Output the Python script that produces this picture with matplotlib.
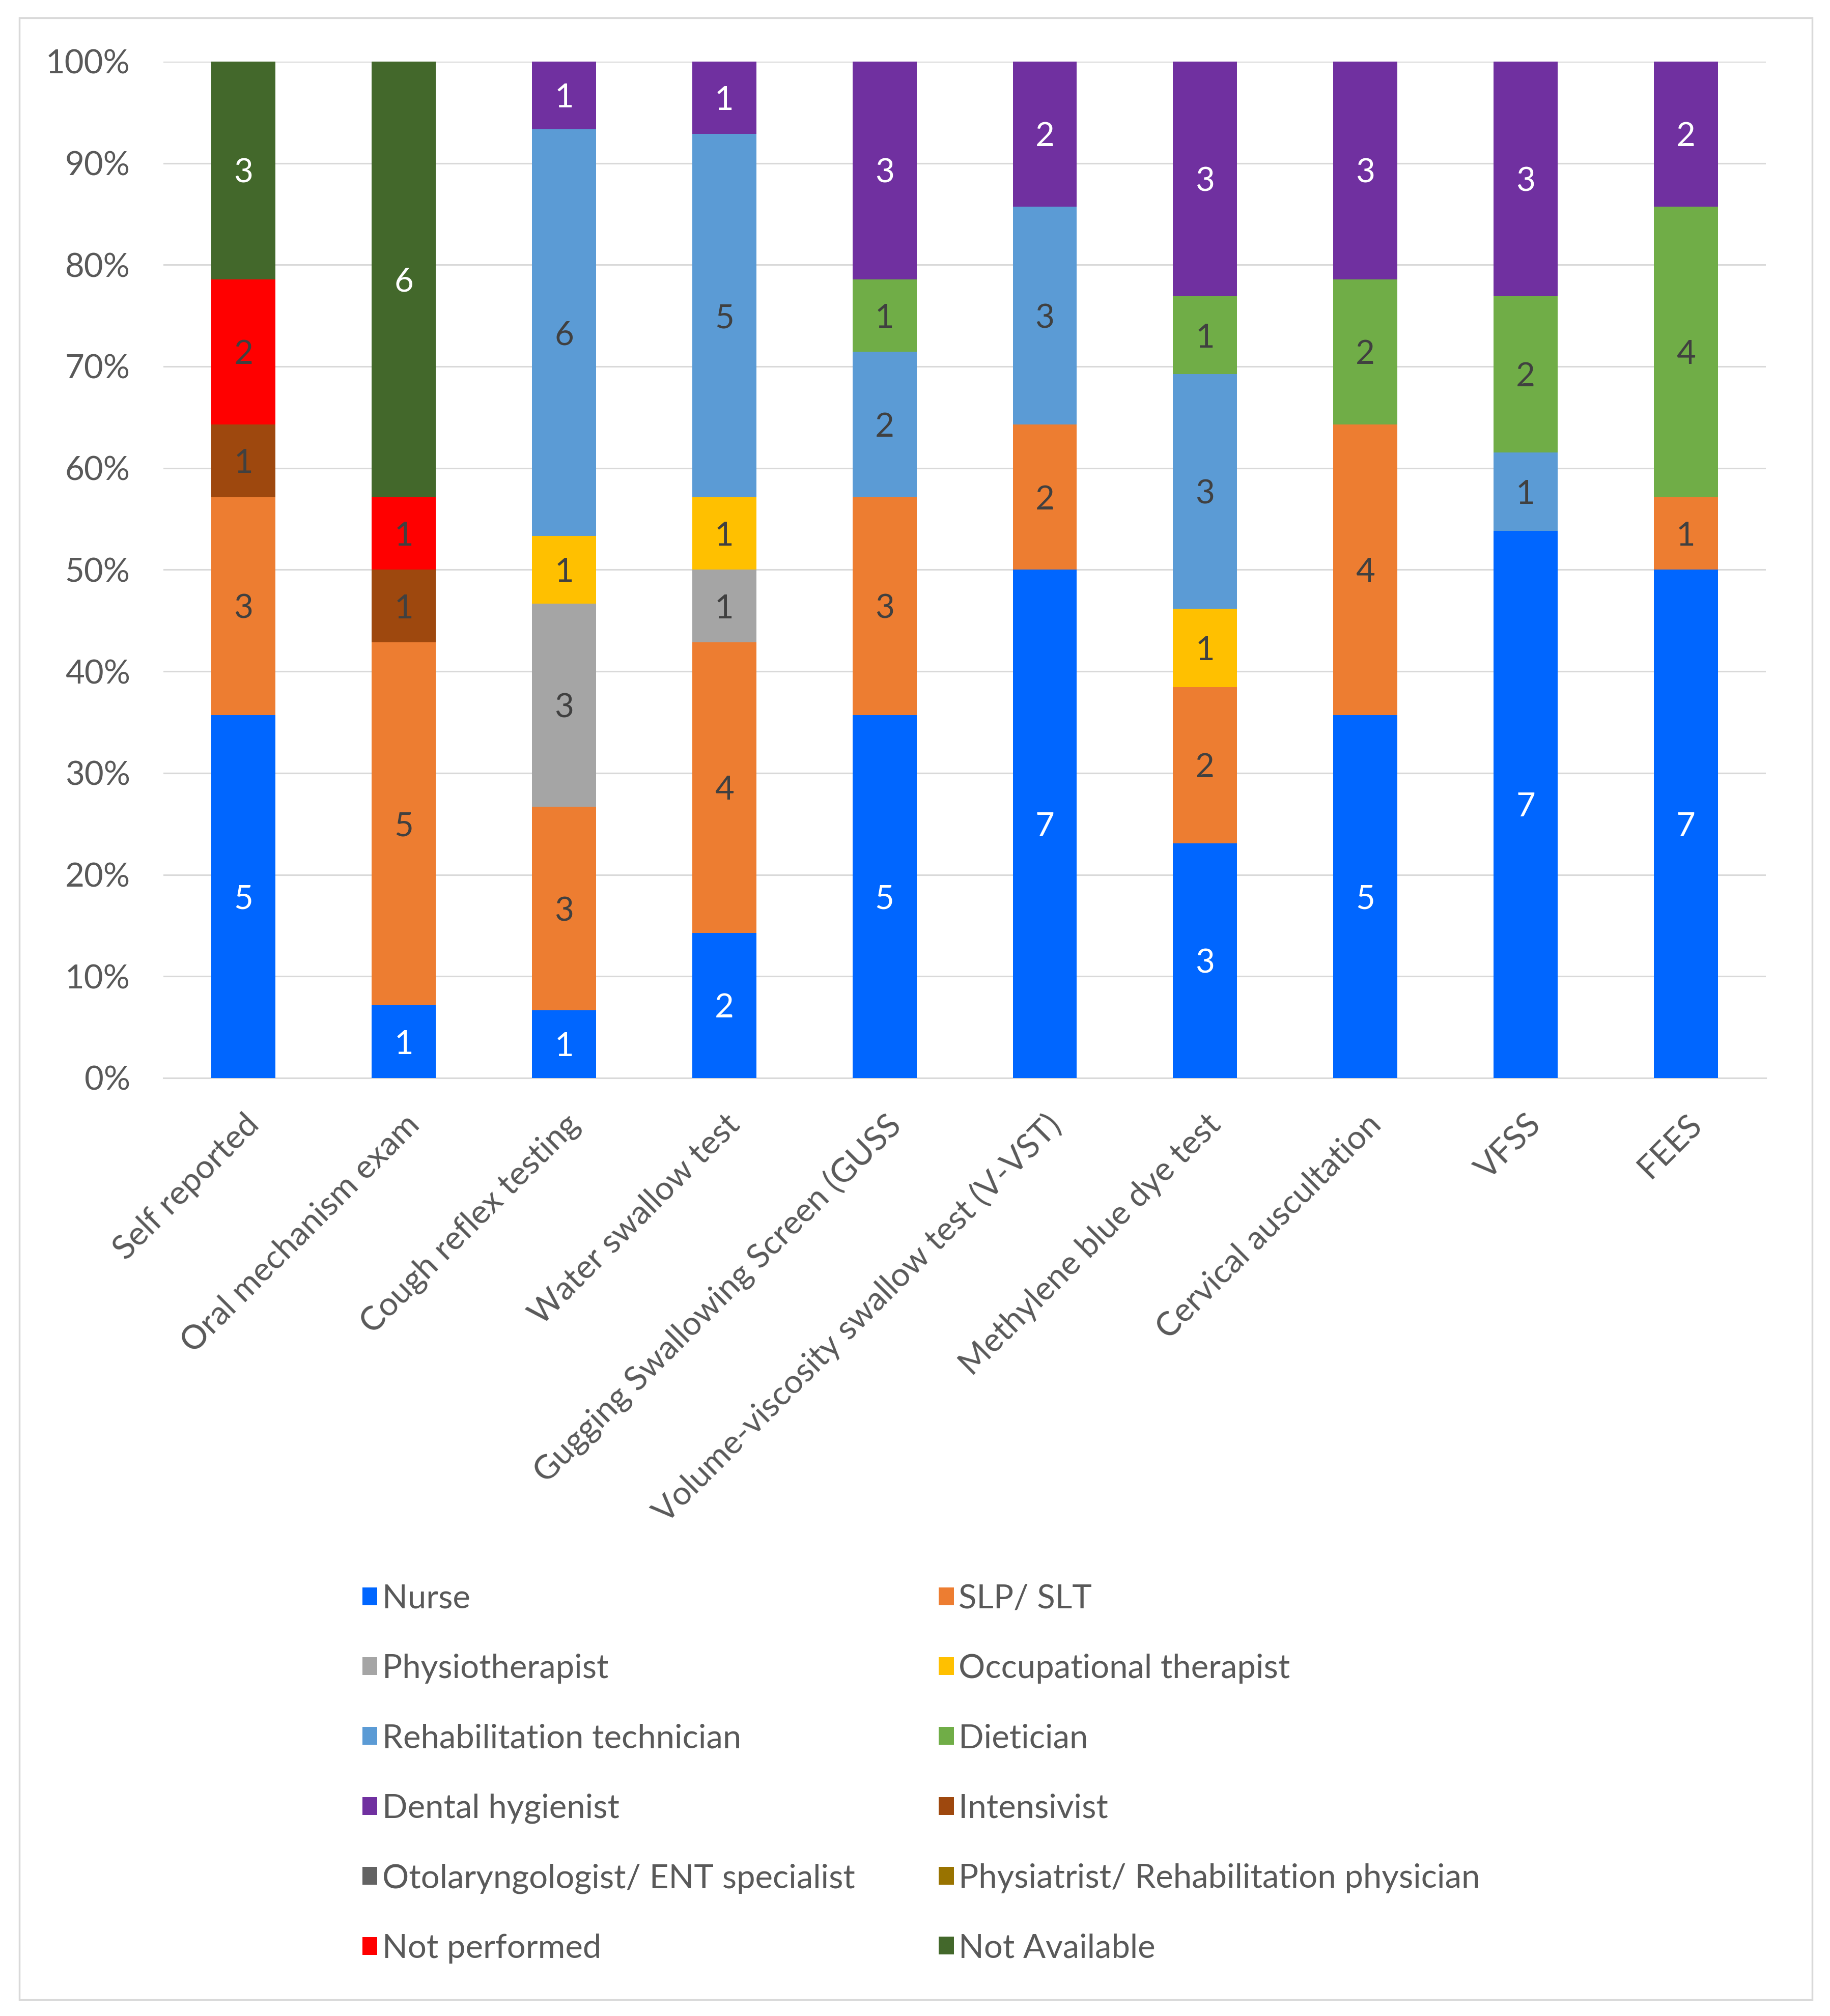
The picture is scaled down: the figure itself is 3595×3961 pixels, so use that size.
import numpy as np
import matplotlib.pyplot as plt
from matplotlib.patches import Rectangle, Patch

# categories along the x axis
tests = ['Self reported', 'Oral mechanism exam', 'Cough reflex testing',
         'Water swallow test', 'Gugging Swallowing Screen (GUSS',
         'Volume-viscosity swallow test (V-VST)', 'Methylene blue dye test',
         'Cervical auscultation', 'VFSS', 'FEES']

# counts per professional group, one list per series
nurse = [5, 1, 1, 2, 5, 7, 3, 5, 7, 7]
slp = [3, 5, 3, 4, 3, 2, 2, 4, 0, 1]
physio = [0, 0, 3, 1, 0, 0, 0, 0, 0, 0]
ot = [0, 0, 1, 1, 0, 0, 1, 0, 0, 0]
rehab_tech = [0, 0, 6, 5, 2, 3, 3, 0, 1, 0]
dietician = [0, 0, 0, 0, 1, 0, 1, 2, 2, 4]
dental = [0, 0, 1, 1, 3, 2, 3, 3, 3, 2]
intensivist = [1, 1, 0, 0, 0, 0, 0, 0, 0, 0]
ent = [0, 0, 0, 0, 0, 0, 0, 0, 0, 0]
physiatrist = [0, 0, 0, 0, 0, 0, 0, 0, 0, 0]
not_performed = [2, 1, 0, 0, 0, 0, 0, 0, 0, 0]
not_available = [3, 6, 0, 0, 0, 0, 0, 0, 0, 0]

series_names = ['Nurse', 'SLP/ SLT', 'Physiotherapist', 'Occupational therapist',
                'Rehabilitation technician', 'Dietician', 'Dental hygienist',
                'Intensivist', 'Otolaryngologist/ ENT specialist',
                'Physiatrist/ Rehabilitation physician', 'Not performed',
                'Not Available']
series_vals = [nurse, slp, physio, ot, rehab_tech, dietician, dental,
               intensivist, ent, physiatrist, not_performed, not_available]
colors = ['#0066FF', '#ED7D31', '#A5A5A5', '#FFC000', '#5B9BD5', '#70AD47',
          '#7030A0', '#9E480E', '#636363', '#997300', '#FF0000', '#43682B']
label_colors = ['white', '#404040', '#404040', '#404040', '#404040', '#404040',
                'white', '#404040', 'white', 'white', '#404040', 'white']

plt.rcParams['font.family'] = ['Lato', 'DejaVu Sans']
fs = 47
txt_col = '#595959'
grid_col = '#D9D9D9'

fig = plt.figure(figsize=(35.95, 39.61), dpi=100)
ax = fig.add_axes([0.0893, 0.4653, 0.8757, 0.5042])

data = np.array(series_vals, dtype=float)
totals = data.sum(axis=0)
pct = data / totals * 100
x = np.arange(len(tests))
bottom = np.zeros(len(tests))
for i, name in enumerate(series_names):
    bars = ax.bar(x, pct[i], 0.4, bottom=bottom, color=colors[i], zorder=3)
    for j, b in enumerate(bars):
        if data[i, j] > 0:
            ax.text(b.get_x() + b.get_width() / 2, bottom[j] + pct[i, j] / 2,
                    str(int(data[i, j])), ha='center', va='center_baseline',
                    fontsize=fs, color=label_colors[i], zorder=4)
    bottom += pct[i]

ax.set_xlim(-0.5, len(tests) - 0.5)
ax.set_ylim(0, 100)
ax.set_yticks(np.arange(0, 101, 10))
ax.set_yticklabels([f'{v}%' for v in range(0, 101, 10)])
ax.yaxis.grid(True, color=grid_col, linewidth=2.2, zorder=0)
ax.set_xticks(x)
ax.set_xticklabels(tests, rotation=45, ha='right', rotation_mode='anchor')
ax.tick_params(axis='both', length=0, labelsize=fs, labelcolor=txt_col)
ax.tick_params(axis='y', pad=47)
ax.tick_params(axis='x', pad=44)
for s in ['top', 'right', 'left']:
    ax.spines[s].set_visible(False)
ax.spines['bottom'].set_color(grid_col)
ax.spines['bottom'].set_linewidth(2.2)

# legend, two columns filled row by row
for col, xpos in [(0, 0.198), (1, 0.513)]:
    handles = [Patch(facecolor=colors[k], edgecolor='none', label=series_names[k])
               for k in range(col, len(series_names), 2)]
    leg = fig.legend(handles=handles, loc='upper left', bbox_to_anchor=(xpos, 0.2145),
                     frameon=False, fontsize=fs, handlelength=0.45, handleheight=0.45,
                     handletextpad=0.15, labelspacing=1.2, borderpad=0,
                     borderaxespad=0)
    for t in leg.get_texts():
        t.set_color(txt_col)

# outer chart border
fig.patches.append(Rectangle((0.0106, 0.0081), 0.9797, 0.9831, transform=fig.transFigure,
                             fill=False, edgecolor=grid_col, linewidth=2.5))

fig.savefig('out.png', dpi=100)
